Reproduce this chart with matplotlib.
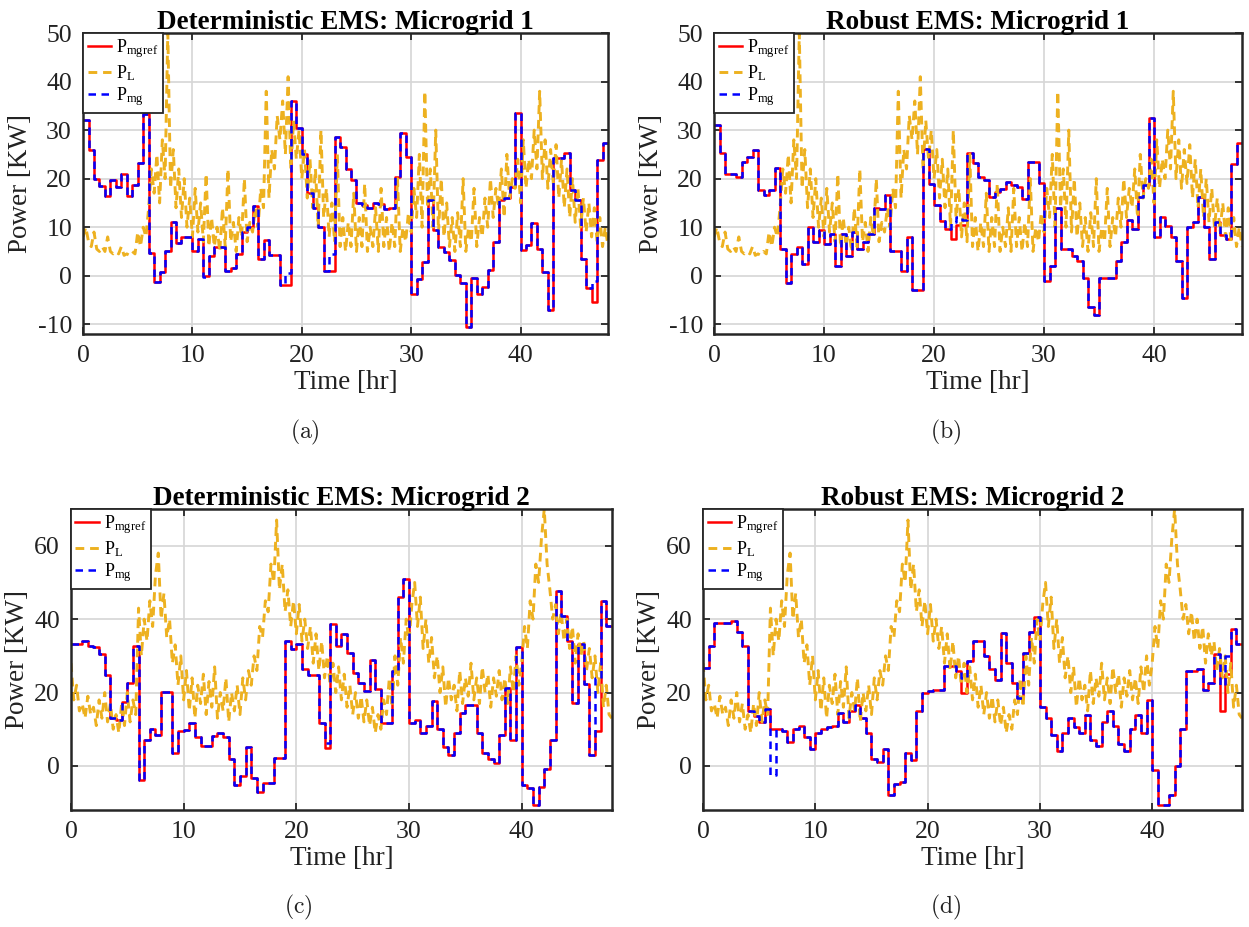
import matplotlib
matplotlib.use("Agg")
import matplotlib.pyplot as plt
import numpy as np

plt.rcParams['font.family'] = ['Liberation Serif', 'DejaVu Serif']
plt.rcParams['mathtext.fontset'] = 'stix'
plt.rcParams['axes.unicode_minus'] = False

# time axes: EMS set-points every 30 min, load every 15 min
t_step = np.arange(0, 48.5, 0.5)
t_load = np.arange(0, 48.01, 0.25)

# ---- Microgrid 1 ----
mg1_det_ref = [32, 26, 20, 18.5, 16.5, 19.7, 18.2, 21, 16.4, 18.6, 23.3, 33.3,
               4.7, -1.3, 0.8, 5, 11, 6.8, 8, 8, 5, 7.5, 0, 4,
               6, 6, 1, 1.5, 4.5, 9, 10, 14.3, 3.5, 7.3, 4.3, 4.3,
               -2, -2, 36, 30.5, 25, 17, 14, 10, 1, 1, 28.6, 26.6,
               22, 19.7, 15, 14.5, 14, 15, 14.8, 13.8, 14, 20.4, 29.4, 24.5,
               -3.7, -0.6, 2.8, 15.5, 9.4, 5.9, 4.9, 3.2, 0.1, -1.5, -10.6, -0.5,
               -3.7, -2.3, 1.1, 7, 15.6, 16, 18.3, 33.5, 5.3, 6.3, 10.8, 5.6,
               0.8, -7.1, 24.2, 24.2, 25.2, 17.6, 15.6, 3.5, -2.6, -5.4, 23.8, 27.3]
mg1_det_mg = [32, 26, 20, 18.5, 16.5, 19.7, 18.2, 21, 16.4, 18.6, 23.3, 33.3,
              4.7, -1.3, 0.8, 5, 11, 6.8, 8, 8, 5, 7.5, -0.3, 4,
              6, 6, 1, 1.5, 4.5, 9, 10, 14.3, 3.5, 7.3, 4.3, 4.3,
              -2, 0.5, 36, 30.5, 25, 17, 14, 10, 1, 4.5, 28.6, 26.6,
              22, 19.7, 15, 14.5, 14, 15, 14.8, 13.8, 14, 20.4, 29.4, 24.5,
              -3.7, -0.6, 2.8, 15.5, 9.4, 5.9, 4.9, 3.2, 0.1, -1.5, -10.6, -0.5,
              -3.7, -2.3, 1.1, 7, 15.6, 16, 18.3, 33.5, 5.3, 6.3, 10.8, 5.6,
              0.8, -7.1, 24.2, 24.2, 25.2, 17.6, 15.6, 3.5, -2.6, -1, 23.8, 27.3]
mg1_rob_ref = [31, 25.2, 21, 21, 20.4, 23.4, 24.4, 25.9, 17.6, 16.6, 17.6, 22.1,
               5.5, -1.5, 4.5, 6, 2.5, 10, 7, 9.5, 6.5, 8.5, 2, 8.5,
               4, 9, 5.5, 7, 8.5, 14, 13.7, 16.6, 5, 5, 1, 8,
               -3, -3, 26.2, 18.8, 14.5, 11.3, 9.7, 7.5, 10.5, 10.5, 25.2, 23.3,
               20.4, 19.7, 16.2, 17.2, 17.9, 19.4, 18.7, 18.3, 15.9, 23.4, 23.4, 19,
               -1, 2, 14, 5.5, 5.5, 4, 3, -0.5, -6.5, -8, -0.5, -0.5,
               -0.5, 3, 7, 11.5, 9.7, 16.2, 18.7, 32.5, 8, 12, 10.3, 8,
               3, -4.5, 10, 11, 16.2, 10, 3.5, 11, 8.3, 7.5, 23, 27.3]
mg1_rob_mg = [31, 25.2, 21, 21, 20.4, 23.4, 24.4, 25.9, 17.6, 16.6, 17.6, 22.1,
              5.5, -1.5, 4.5, 6, 2.5, 10, 7, 9.5, 6.5, 8.5, 2, 8.5,
              4, 9, 5.5, 7, 8.5, 14, 13.7, 16.6, 5, 5, 1, 8,
              -3, -3, 26.2, 18.8, 14.5, 11.3, 9.7, 11, 12, 11.5, 25.2, 23.3,
              20.4, 19.7, 16.2, 17.2, 17.9, 19.4, 18.7, 18.3, 15.9, 23.4, 23.4, 19,
              -1, 2, 14, 5.5, 5.5, 4, 3, -0.5, -6.5, -8, -0.5, -0.5,
              -0.5, 3, 7, 11.5, 9.7, 16.2, 18.7, 32.5, 8, 12, 10.3, 8,
              3, -4.5, 10, 11, 16.2, 10, 3.5, 11, 8.3, 7.5, 23, 27.3]
load_mg1 = [8, 10, 7, 6, 9, 5.5, 5, 6,
            5, 8, 5, 4.5, 5, 4.5, 6, 4.2,
            4.5, 4.2, 5, 4.5, 9, 6, 10, 8,
            14, 22, 17, 25, 15, 28, 20, 50,
            18, 26, 14, 22, 12, 20, 10, 16,
            8, 18, 9, 15, 7, 21, 6, 12,
            6, 10, 5, 14, 6, 22, 7, 11,
            5, 12, 8, 20, 7, 11, 9, 14,
            10, 18, 14, 38, 16, 26, 22, 33,
            28, 36, 25, 41, 22, 32, 24, 30,
            20, 26, 16, 24, 14, 22, 10, 30,
            12, 18, 8, 15, 7, 25, 6, 12,
            5, 11, 6, 17, 5, 12, 6, 19,
            5, 10, 6, 14, 5, 18, 6, 12,
            5, 11, 6, 20, 5, 10, 7, 13,
            9, 18, 12, 25, 10, 38, 14, 22,
            10, 30, 9, 20, 8, 15, 6, 12,
            5, 13, 6, 20, 5, 10, 7, 18,
            6, 12, 8, 16, 10, 20, 12, 18,
            14, 22, 12, 25, 16, 20, 18, 24,
            15, 28, 18, 24, 20, 30, 22, 38,
            20, 28, 18, 26, 19, 27, 16, 24,
            14, 22, 12, 20, 11, 18, 10, 16,
            9, 15, 8, 14, 7, 12, 6, 10,
            6]

# ---- Microgrid 2 ----
mg2_det_ref = [33.2, 33.2, 34.1, 32.8, 32.3, 30.4, 24.9, 13, 12.6, 17.4, 22.7, 32.8,
               -3.8, 7.1, 10.1, 8.4, 20.2, 20.2, 3.5, 9.4, 9.8, 11.6, 8, 5.5,
               5.5, 8.1, 9, 8, 1.9, -5.2, -2.7, 5.3, -3.3, -7, -4.6, -4.6,
               2.1, 2.1, 34.1, 31.8, 33.2, 26.3, 24.9, 24.9, 11.7, 4.8, 38.6, 32.7,
               35.9, 30.9, 25.4, 22.6, 20.4, 28.9, 21, 11.7, 11.7, 25.8, 45.9, 50.9,
               11.7, 12.6, 9, 10.8, 17.6, 10, 5.3, 3, 9, 14.4, 16.7, 16.7,
               9, 3.5, 1.9, 0.7, 8.5, 21.3, 7.1, 32.3, -5.2, -6.1, -10.7, -5.7,
               -0.7, 7.1, 47.7, 40.9, 34, 17.2, 33.2, 22.2, 3, 9.4, 45, 38.1]
mg2_det_mg = [33.2, 33.2, 34.1, 32.8, 32.3, 30.4, 24.9, 13, 12.6, 17.4, 22.7, 32.8,
              -3.8, 7.1, 10.1, 8.4, 20.2, 20.2, 3.5, 9.4, 9.8, 11.6, 8, 5.5,
              5.5, 8.1, 9, 8, 1.9, -5.2, -2.7, 5.3, -3.3, -7, -4.6, -4.6,
              2.1, 2.1, 34.1, 31.8, 33.2, 26.3, 24.9, 24.9, 11.7, 6.2, 38.6, 32.7,
              35.9, 30.9, 25.4, 22.6, 20.4, 28.9, 21, 11.7, 11.7, 25.8, 45.9, 50.9,
              11.7, 12.6, 9, 10.8, 17.6, 10, 5.3, 3, 9, 14.4, 16.7, 16.7,
              9, 3.5, 1.9, 0.7, 8.5, 21.3, 7.1, 32.3, -5.2, -6.1, -10.7, -5.7,
              -0.7, 7.1, 47.7, 40.9, 34, 17.2, 33.2, 22.2, 3, 24, 45, 38.1]
mg2_rob_ref = [26.8, 32.7, 38.9, 38.9, 38.9, 39.5, 36.5, 32.8, 15, 13.5, 12, 15.5,
               10, 10, 9.5, 6.5, 10, 11, 8, 4.5, 9, 10, 10.5, 11,
               14.5, 12, 15, 16.5, 13, 9, 2, 1, 4.5, -8, -5, -4.5,
               3.5, 1.5, 15, 20, 20.4, 20.8, 20.8, 27.2, 27.2, 25.8, 20, 28.6,
               34.1, 34.1, 30, 26.3, 23.5, 36.3, 28.1, 22.6, 18.4, 30.9, 36.6, 40.5,
               16, 13, 8.5, 4, 9, 13, 10.5, 9, 14, 7, 5.5, 12,
               15, 11, 6, 4, 10, 14, 9, 18, -1, -10.5, -10.5, -8,
               0, 10, 25.8, 25.8, 26.3, 20.8, 22.6, 30.4, 15, 25, 37.3, 33.2]
mg2_rob_mg = [26.8, 32.7, 38.9, 38.9, 38.9, 39.5, 36.5, 32.8, 15, 13.5, 12, 15.5,
              -2.5, 10, 9.5, 6.5, 10, 11, 8, 4.5, 9, 10, 10.5, 11,
              14.5, 12, 15, 16.5, 13, 9, 2, 1, 4.5, -8, -5, -4.5,
              3.5, 1.5, 15, 20, 20.4, 20.8, 20.8, 27.2, 27.2, 25.8, 24, 28.6,
              34.1, 34.1, 30, 26.3, 23.5, 36.3, 28.1, 22.6, 18.4, 30.9, 36.6, 40.5,
              16, 13, 8.5, 4, 9, 13, 10.5, 9, 14, 7, 5.5, 12,
              15, 11, 6, 4, 10, 14, 9, 18, -1, -10.5, -10.5, -8,
              0, 10, 25.8, 25.8, 26.3, 20.8, 22.6, 30.4, 22, 30, 37.3, 33.2]
load_mg2 = [28, 18, 22, 15, 17, 13, 19, 14,
            16, 11, 18, 13, 20, 12, 17, 10,
            14, 9, 17, 11, 20, 12, 18, 14,
            43, 30, 40, 34, 45, 38, 52, 58,
            40, 47, 35, 40, 28, 33, 22, 30,
            18, 26, 15, 24, 13, 22, 17, 25,
            14, 23, 16, 27, 13, 20, 15, 24,
            12, 20, 15, 22, 14, 24, 18, 26,
            22, 30, 26, 38, 35, 45, 42, 55,
            50, 67, 48, 55, 42, 48, 38, 45,
            36, 44, 34, 40, 32, 38, 28, 36,
            26, 34, 24, 30, 22, 28, 20, 27,
            18, 25, 16, 22, 14, 20, 13, 19,
            12, 18, 11, 16, 9, 14, 10, 18,
            14, 24, 16, 30, 22, 35, 28, 40,
            34, 44, 50, 38, 46, 32, 40, 28,
            35, 24, 30, 20, 27, 16, 24, 18,
            22, 15, 26, 17, 24, 19, 28, 18,
            24, 17, 27, 20, 25, 16, 24, 19,
            26, 18, 24, 17, 27, 20, 30, 22,
            28, 38, 32, 45, 40, 55, 50, 62,
            70, 55, 48, 40, 44, 36, 42, 34,
            40, 32, 38, 28, 36, 30, 34, 26,
            32, 24, 30, 20, 28, 16, 22, 14,
            13]

YELLOW = '#EDB120'
DARK = '#262626'


def draw_panel(ax, ref, mg, load, title, ylim, yticks):
    ref = np.append(ref, ref[-1])
    mg = np.append(mg, mg[-1])
    l1, = ax.plot(t_step, ref, drawstyle='steps-post', color='red', lw=1.8,
                  label=r'$\mathregular{P_{mgref}}$')
    l2, = ax.plot(t_load, load, color=YELLOW, lw=2.1, dashes=(3.0, 2.0),
                  label=r'$\mathregular{P_{L}}$')
    l3, = ax.plot(t_step, mg, drawstyle='steps-post', color='blue', lw=1.8,
                  dashes=(3, 2.2), label=r'$\mathregular{P_{mg}}$')
    ax.set_xlim(0, 48)
    ax.set_ylim(*ylim)
    ax.set_xticks([0, 10, 20, 30, 40])
    ax.set_yticks(yticks)
    ax.grid(True, color='#d6d6d6', lw=1.2)
    ax.set_axisbelow(True)
    ax.tick_params(direction='in', top=True, right=True, length=5, width=1.3,
                   labelsize=18.5, pad=8, colors=DARK, labelcolor='#222222')
    for s in ax.spines.values():
        s.set_linewidth(1.8)
        s.set_color(DARK)
    ax.set_title(title, fontsize=19.5, fontweight='bold', pad=3)
    ax.set_xlabel('Time [hr]', fontsize=19.5, labelpad=2, color='#222222')
    ax.set_ylabel('Power [KW]', fontsize=19.5, labelpad=3, color='#222222')
    leg = ax.legend(handles=[l1, l2, l3], loc='upper left', fontsize=13,
                    fancybox=False, edgecolor=DARK, framealpha=1,
                    borderaxespad=0, handlelength=1.3, handletextpad=0.3,
                    labelspacing=0.15, borderpad=0.25)
    leg.get_frame().set_linewidth(1.3)


fig = plt.figure(figsize=(12.49, 9.27), dpi=100)

ax_a = fig.add_axes([0.0665, 0.6397, 0.4203, 0.3247])
ax_b = fig.add_axes([0.5717, 0.6397, 0.4227, 0.3247])
ax_c = fig.add_axes([0.0568, 0.1262, 0.4331, 0.3247])
ax_d = fig.add_axes([0.5629, 0.1262, 0.4315, 0.3247])

draw_panel(ax_a, mg1_det_ref, mg1_det_mg, load_mg1,
           'Deterministic EMS: Microgrid 1', (-12, 50), [-10, 0, 10, 20, 30, 40, 50])
draw_panel(ax_b, mg1_rob_ref, mg1_rob_mg, load_mg1,
           'Robust EMS: Microgrid 1', (-12, 50), [-10, 0, 10, 20, 30, 40, 50])
draw_panel(ax_c, mg2_det_ref, mg2_det_mg, load_mg2,
           'Deterministic EMS: Microgrid 2', (-12, 70), [0, 20, 40, 60])
draw_panel(ax_d, mg2_rob_ref, mg2_rob_mg, load_mg2,
           'Robust EMS: Microgrid 2', (-12, 70), [0, 20, 40, 60])

for x, y, s in [(0.244, 0.534, '(a)'), (0.757, 0.534, '(b)'),
                (0.239, 0.021, '(c)'), (0.757, 0.021, '(d)')]:
    fig.text(x, y, r'$\mathrm{' + s + '}$', math_fontfamily='cm', fontsize=17,
             ha='center', va='center', color='#222222')

fig.savefig('out.png', dpi=100)
